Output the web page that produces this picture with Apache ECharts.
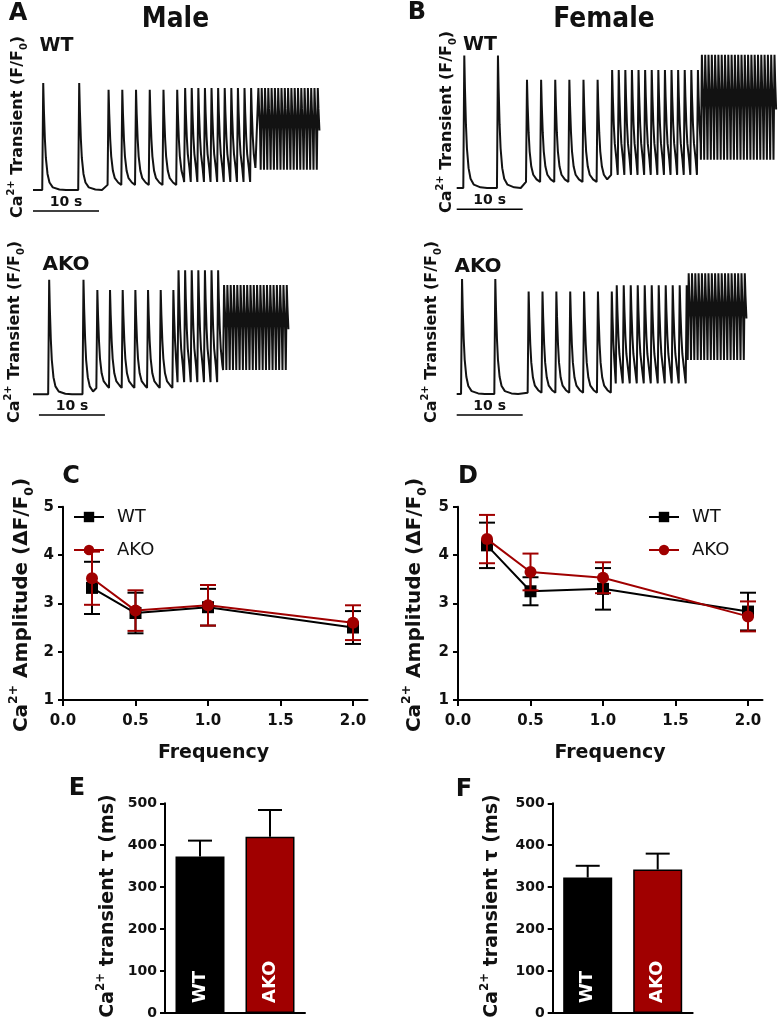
<!DOCTYPE html>
<html><head><meta charset="utf-8">
<script src="https://cdn.jsdelivr.net/npm/echarts@6/dist/echarts.min.js"></script>
<style>html,body{margin:0;padding:0;background:#fff}#c{width:781px;height:1020px}</style>
</head><body><div id="c"></div>
<script>
// ---------------- data ----------------
const freqs = [0.2, 0.5, 1.0, 2.0];
const freqTicks = [0, 0.5, 1.0, 1.5, 2.0];
const maleWTamp  = [3.32, 2.80, 2.92, 2.50];
const maleWTsem  = [0.54, 0.42, 0.38, 0.34];
const maleAKOamp = [3.52, 2.85, 2.96, 2.60];
const maleAKOsem = [0.55, 0.42, 0.42, 0.36];
const femWTamp   = [4.20, 3.25, 3.30, 2.83];
const femWTsem   = [0.47, 0.29, 0.43, 0.39];
const femAKOamp  = [4.33, 3.65, 3.53, 2.73];
const femAKOsem  = [0.50, 0.38, 0.32, 0.31];
const groups = ['WT', 'AKO'];
const maleTau = [373, 420];
const maleTauSem = [38, 64];
const femTau = [323, 342];
const femTauSem = [28, 38];
// Ca2+ traces, one row per pacing step:
// [first peak time (s), beat period (s), beats, peak F/F0, diastolic F/F0]
const traceMaleWT = [
  [1.5, 5.45, 2, 4.34, 1.00],
  [11.4, 2.08, 6, 4.13, 1.16],
  [23.0, 1.00, 11, 4.19, 1.25],
  [34.1, 0.50, 19, 4.19, 1.63]
];
const traceMaleAKO = [
  [2.4, 5.20, 2, 4.60, 1.02],
  [9.7, 1.92, 7, 4.28, 1.22],
  [22.0, 1.00, 7, 4.90, 1.40],
  [28.9, 0.50, 20, 4.44, 1.78]
];
const traceFemWT = [
  [1.1, 5.10, 2, 5.14, 1.00],
  [10.6, 2.14, 6, 4.38, 1.19],
  [23.5, 1.00, 14, 4.69, 1.41],
  [37.1, 0.50, 23, 5.16, 1.88]
];
const traceFemAKO = [
  [0.76, 5.04, 2, 4.59, 1.00],
  [10.85, 2.10, 7, 4.20, 1.04],
  [24.2, 1.06, 11, 4.40, 1.33],
  [35.1, 0.50, 18, 4.77, 2.06]
];
// single transient shape: [time from peak (s), fraction of amplitude]
const beatShape = [[-0.1, 0], [0.05, 1], [0.15, 0.75], [0.3, 0.48], [0.45, 0.3], [0.7, 0.15], [1.0, 0.07], [1.5, 0.025], [2.5, 0.005], [3.5, 0]];
const scaleBarSec = 10;
// scale bar: [start time (s), level F/F0]
const barMaleWT = [0, 0.344];
const barMaleAKO = [0.9, 0.375];
const barFemWT = [0, 0.334];
const barFemAKO = [0, 0.344];

// ---------------- build ----------------
const FF = 'DejaVu Sans';
const TXT = '#111';
const RED = '#a00000';

function buildTrace(segs) {
  const beats = [];
  segs.forEach(s => { for (let i = 0; i < s[2]; i++) beats.push({ t: s[0] + i * s[1], pk: s[3], dia: s[4] }); });
  const pts = [[0, segs[0][4]]];
  beats.forEach((b, k) => {
    const next = beats[k + 1];
    const limit = next ? (next.t - 0.1 - b.t) : 0.35;
    beatShape.forEach(([dt, f]) => {
      if (dt === -0.1 || dt < limit) pts.push([b.t + dt, b.dia + (b.pk - b.dia) * f]);
    });
  });
  return pts;
}

const grids = [], xAxes = [], yAxes = [], series = [];
function addGrid(g) { grids.push(g); return grids.length - 1; }

// trace panels
function tracePanel(left, top, width, segs, bar) {
  const gi = addGrid({ left, top, width, height: 176 });
  xAxes.push({ gridIndex: gi, type: 'value', min: 0, max: width / 6.6, show: false });
  yAxes.push({ gridIndex: gi, type: 'value', min: 0, max: 5.5, show: false });
  series.push({ type: 'line', name: 'trace' + gi, xAxisIndex: gi, yAxisIndex: gi, data: buildTrace(segs),
    showSymbol: false, symbol: 'none', clip: false, lineStyle: { color: '#121212', width: 2 }, animation: false, silent: true });
  series.push({ type: 'line', name: 'bar' + gi, xAxisIndex: gi, yAxisIndex: gi,
    data: [[bar[0], bar[1]], [bar[0] + scaleBarSec, bar[1]]], showSymbol: false, symbol: 'none', clip: false,
    lineStyle: { color: '#000', width: 1.6 }, animation: false, silent: true });
}
tracePanel(33, 46, 300, traceMaleWT, barMaleWT);
tracePanel(33, 251, 300, traceMaleAKO, barMaleAKO);
tracePanel(456.7, 44, 322, traceFemWT, barFemWT);
tracePanel(456.7, 250, 322, traceFemAKO, barFemAKO);

const axisLbl = { color: TXT, fontFamily: FF, fontWeight: 'bold', fontSize: 15 };
const axLine = { show: true, lineStyle: { color: '#000', width: 2 } };

function errBar(ai, data, color, cap, z, upOnly) {
  return { type: 'custom', name: 'err' + ai + color, xAxisIndex: ai, yAxisIndex: ai, data, z, silent: true, animation: false,
    encode: { x: 0, y: 1 },
    renderItem: (params, api) => {
      const x = api.value(0), m = api.value(1), e = api.value(2);
      const top = api.coord([x, m + e]);
      const bot = api.coord([x, upOnly ? m : m - e]);
      const h = cap / 2;
      const st = { stroke: color, lineWidth: 2 };
      const ch = [
        { type: 'line', shape: { x1: top[0], y1: top[1], x2: bot[0], y2: bot[1] }, style: st },
        { type: 'line', shape: { x1: top[0] - h, y1: top[1], x2: top[0] + h, y2: top[1] }, style: st }
      ];
      if (!upOnly) ch.push({ type: 'line', shape: { x1: bot[0] - h, y1: bot[1], x2: bot[0] + h, y2: bot[1] }, style: st });
      return { type: 'group', children: ch };
    } };
}

function ampPanel(left, wtA, wtS, akA, akS) {
  const gi = addGrid({ left, top: 506.7, width: 304.5, height: 193.3 });
  xAxes.push({ gridIndex: gi, type: 'value', min: 0, max: 2.1, interval: 0.5,
    axisLine: { ...axLine, onZero: false },
    axisTick: { show: true, length: 6, lineStyle: { color: '#000', width: 2 }, customValues: freqTicks },
    axisLabel: { ...axisLbl, margin: 14, customValues: freqTicks, formatter: v => v.toFixed(1) },
    splitLine: { show: false } });
  yAxes.push({ gridIndex: gi, type: 'value', min: 1, max: 5, interval: 1,
    axisLine: { ...axLine, onZero: false },
    axisTick: { show: true, length: 5, lineStyle: { color: '#000', width: 2 } },
    axisLabel: { ...axisLbl, margin: 9 }, splitLine: { show: false } });
  series.push(errBar(gi, freqs.map((f, i) => [f, wtA[i], wtS[i]]), '#000', 16, 3, false));
  series.push({ type: 'line', name: 'WT', xAxisIndex: gi, yAxisIndex: gi, z: 4, data: freqs.map((f, i) => [f, wtA[i]]),
    symbol: 'rect', symbolSize: 12, lineStyle: { color: '#000', width: 2 }, itemStyle: { color: '#000' }, animation: false });
  series.push(errBar(gi, freqs.map((f, i) => [f, akA[i], akS[i]]), RED, 16, 5, false));
  series.push({ type: 'line', name: 'AKO', xAxisIndex: gi, yAxisIndex: gi, z: 6, data: freqs.map((f, i) => [f, akA[i]]),
    symbol: 'circle', symbolSize: 12, lineStyle: { color: RED, width: 2 }, itemStyle: { color: RED }, animation: false });
}
ampPanel(63, maleWTamp, maleWTsem, maleAKOamp, maleAKOsem);
ampPanel(458, femWTamp, femWTsem, femAKOamp, femAKOsem);

function tauPanel(left, vals, sems) {
  const gi = addGrid({ left, top: 803.3, width: 140, height: 210.7 });
  xAxes.push({ gridIndex: gi, type: 'category', data: groups, axisLine: { ...axLine, onZero: false },
    axisTick: { show: false }, axisLabel: { show: false } });
  yAxes.push({ gridIndex: gi, type: 'value', min: 0, max: 500, interval: 100,
    axisLine: { ...axLine, onZero: false },
    axisTick: { show: true, length: 5, lineStyle: { color: '#000', width: 2 } },
    axisLabel: { ...axisLbl, fontSize: 14, margin: 8 }, splitLine: { show: false } });
  series.push(errBar(gi, vals.map((v, i) => [i, v, sems[i]]), '#000', 24, 2, true));
  series.push({ type: 'bar', name: 'tau' + gi, xAxisIndex: gi, yAxisIndex: gi, barWidth: 49, z: 3, animation: false,
    data: vals.map((v, i) => ({ value: v, itemStyle: { color: i === 0 ? '#000' : RED, borderColor: '#000', borderWidth: 1.5 } })),
    label: { show: true, position: 'insideBottom', rotate: 90, align: 'left', verticalAlign: 'middle', distance: 10,
      formatter: '{b}', color: '#fff', fontFamily: FF, fontWeight: 'bold', fontSize: 18 } });
}
tauPanel(165, maleTau, maleTauSem);
tauPanel(552.7, femTau, femTauSem);

// ---------------- text ----------------
function txt(x, y, text, size, weight, extra) {
  return Object.assign({ type: 'text', x, y, z: 100, silent: true,
    style: { text, fontSize: size, fontWeight: weight || 'bold', fontFamily: FF, fill: TXT, align: 'center', verticalAlign: 'middle' } }, extra || {});
}
function richRot(x, y, text, size) {
  const base = { fontSize: size, fontWeight: 'bold', fontFamily: FF, fill: TXT, color: TXT, lineHeight: size * 1.4 };
  return { type: 'text', x, y, z: 100, rotation: Math.PI / 2, silent: true,
    style: { text, align: 'center', verticalAlign: 'middle', fontSize: size, fontWeight: 'bold', fontFamily: FF, fill: TXT,
      rich: {
        a: base,
        s: { ...base, fontSize: size * 0.62, lineHeight: size * 0.6, verticalAlign: 'top' },
        b: { ...base, fontSize: size * 0.62, lineHeight: size * 0.9, verticalAlign: 'bottom' }
      } } };
}
const trLbl = '{a|Ca}{s|2+}{a| Transient (F/F}{b|0}{a|)}';
const ampLbl = '{a|Ca}{s|2+}{a| Amplitude (ΔF/F}{b|0}{a|)}';
const tauLbl = '{a|Ca}{s|2+}{a| transient τ (ms)}';

const graphic = [
  txt(18, 14, 'A', 24), txt(417, 13, 'B', 24),
  txt(175.5, 20, 'Male', 25, 'bold', { scaleY: 1.12 }),
  txt(604, 20, 'Female', 25, 'bold', { scaleY: 1.12 }),
  txt(56.5, 46, 'WT', 19), txt(66, 265, 'AKO', 20),
  txt(480, 45, 'WT', 19), txt(478, 267, 'AKO', 20),
  txt(66, 202, '10 s', 14), txt(72, 406, '10 s', 14),
  txt(489.7, 200, '10 s', 14), txt(489.7, 406, '10 s', 14),
  richRot(18, 127, trLbl, 16), richRot(15, 332, trLbl, 16),
  richRot(447, 122, trLbl, 16), richRot(432, 332, trLbl, 16),
  txt(71, 477, 'C', 24), txt(468, 477, 'D', 24),
  richRot(22, 605, ampLbl, 20), richRot(415, 605, ampLbl, 20),
  txt(213.5, 753, 'Frequency', 19), txt(610, 753, 'Frequency', 19),
  txt(77, 789, 'E', 24), txt(464, 790, 'F', 24),
  richRot(108, 906, tauLbl, 19), richRot(492, 906, tauLbl, 19)
];

const legendBase = { orient: 'vertical', data: ['WT', 'AKO'], itemWidth: 30, itemHeight: 13, itemGap: 15, selectedMode: false,
  padding: 0, textStyle: { fontSize: 18, fontFamily: FF, color: TXT, lineHeight: 13, padding: [0, 0, 0, 8] } };

const chart = echarts.init(document.getElementById('c'), null, { renderer: 'canvas' });
chart.setOption({
  backgroundColor: '#fff',
  animation: false,
  grid: grids, xAxis: xAxes, yAxis: yAxes, series,
  legend: [Object.assign({ left: 73, top: 508 }, legendBase), Object.assign({ left: 648, top: 508 }, legendBase)],
  graphic
});
</script></body></html>
